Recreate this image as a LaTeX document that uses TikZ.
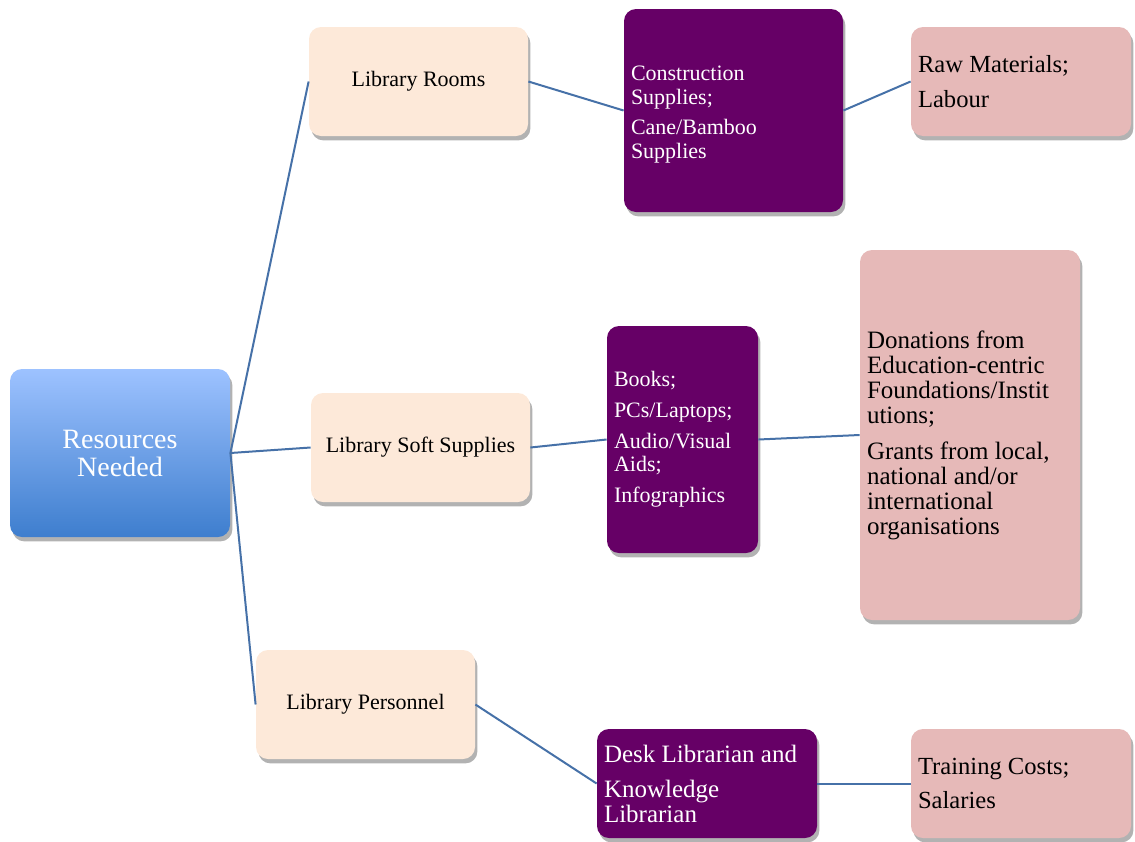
\documentclass[tikz,border=0pt]{standalone}
\usepackage{fontspec}
\setmainfont{Liberation Serif}
\usetikzlibrary{shadows}
\definecolor{peach}{RGB}{253,233,217}
\definecolor{plum}{RGB}{102,0,102}
\definecolor{rose}{RGB}{230,185,184}
\definecolor{linkblue}{RGB}{70,113,168}
\definecolor{rootlight}{RGB}{157,194,255}
\definecolor{rootdark}{RGB}{62,126,206}

\begin{document}
\begin{tikzpicture}[x=0.5pt,y=-0.5pt,
  box/.style={rounded corners=6pt,
    drop shadow={shadow xshift=1.2pt,shadow yshift=-2.2pt,opacity=0.3,fill=black}},
  need/.style={box,fill=peach,minimum width=109.5pt,minimum height=54.5pt,
    inner sep=0pt,font=\fontsize{11}{13}\selectfont},
  supply/.style={box,fill=plum,text=white,align=flush left,inner xsep=3.5pt,inner ysep=0pt},
  source/.style={box,fill=rose,align=flush left,inner xsep=3.5pt,inner ysep=0pt},
  link/.style={draw=linkblue,line width=1pt}]
\useasboundingbox (0,0) rectangle (1135,841);

% root
\node[box,top color=rootlight,bottom color=rootdark,text=white,align=center,
  minimum width=110pt,minimum height=84pt,inner sep=0pt,
  font=\fontsize{14}{14}\selectfont] (root) at (120,453) {Resources\\Needed};

% what is needed
\node[need] (rooms) at (418.5,81.5) {Library Rooms};
\node[need] (soft) at (420.5,447.5) {Library Soft Supplies};
\node[need] (staff) at (365.5,704.5) {Library Personnel};

% supplies
\node[supply,text width=102.5pt,minimum height=101.5pt,
  font=\fontsize{11}{12}\selectfont] (build) at (733.5,110.5)
  {\\[-1pt]Construction\\Supplies;\\[3pt]Cane/Bamboo\\Supplies};
\node[supply,text width=68.5pt,minimum height=113.5pt,
  font=\fontsize{11}{11.5}\selectfont] (media) at (682.5,439.5)
  {Books;\\[4pt]PCs/Laptops;\\[4pt]Audio/Visual\\Aids;\\[4pt]Infographics};
\node[supply,text width=103pt,minimum height=54.5pt,
  font=\fontsize{12.5}{12.5}\selectfont] (librarians) at (707,783.5)
  {Desk Librarian and\\[5pt]Knowledge\\Librarian};

% sources
\node[source,text width=103pt,minimum height=54.5pt,
  font=\fontsize{12.3}{12.5}\selectfont] (materials) at (1021,81.5)
  {Raw Materials;\\[5pt]Labour};
\node[source,text width=103pt,minimum height=185pt,
  font=\fontsize{12.5}{12.5}\selectfont] (funds) at (970,435)
  {Donations from\\Education-centric\\Foundations/Instit\\utions;\\[5.5pt]Grants from local,\\national and/or\\international\\organisations};
\node[source,text width=103pt,minimum height=54.5pt,
  font=\fontsize{12.3}{12.5}\selectfont] (costs) at (1021,783.5)
  {Training Costs;\\[4.5pt]Salaries};

% connectors
\draw[link] (root.east) -- (rooms.west);
\draw[link] (root.east) -- (soft.west);
\draw[link] (root.east) -- (staff.west);
\draw[link] (rooms.east) -- (build.west);
\draw[link] (build.east) -- (materials.west);
\draw[link] (soft.east) -- (media.west);
\draw[link] (media.east) -- (funds.west);
\draw[link] (staff.east) -- (librarians.west);
\draw[link] (librarians.east) -- (costs.west);
\end{tikzpicture}
\end{document}
